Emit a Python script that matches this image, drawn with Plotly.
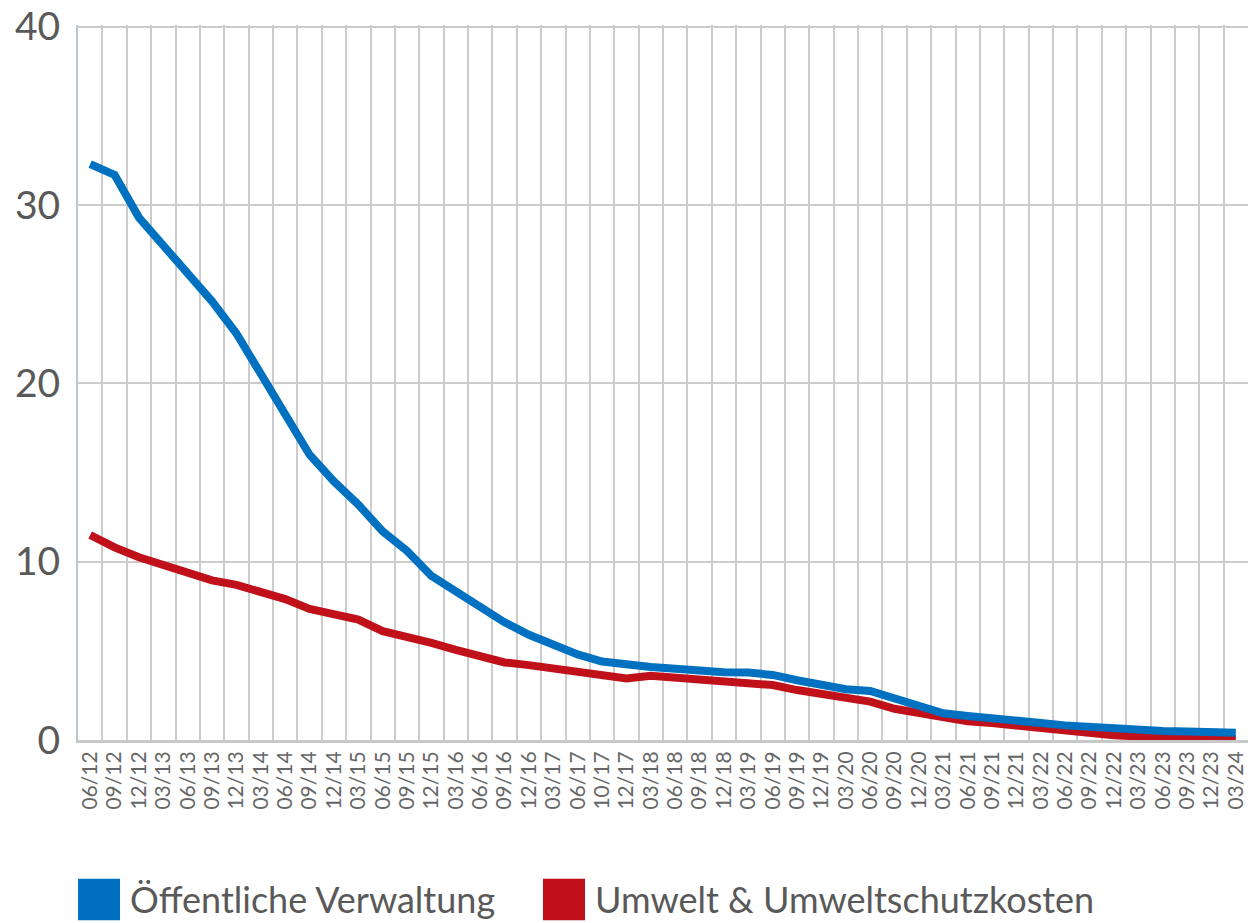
import plotly.graph_objects as go

categories = ["06/12","09/12","12/12","03/13","06/13","09/13","12/13","03/14","06/14","09/14",
              "12/14","03/15","06/15","09/15","12/15","03/16","06/16","09/16","12/16","03/17",
              "06/17","10/17","12/17","03/18","06/18","09/18","12/18","03/19","06/19","09/19",
              "12/19","03/20","06/20","09/20","12/20","03/21","06/21","09/21","12/21","03/22",
              "06/22","09/22","12/22","03/23","06/23","09/23","12/23","03/24"]

series_names = ["Öffentliche Verwaltung", "Umwelt & Umweltschutzkosten"]

verwaltung = [32.3, 31.7, 29.3, 27.7, 26.1, 24.6, 22.8, 20.6, 18.3, 16.0,
              14.5, 13.2, 11.7, 10.6, 9.2, 8.3, 7.4, 6.6, 5.9, 5.3,
              4.8, 4.4, 4.2, 4.1, 4.0, 3.85, 3.8, 3.78, 3.65, 3.35,
              3.1, 2.85, 2.75, 2.35, 1.85, 1.5, 1.35, 1.25, 1.1, 0.95,
              0.82, 0.72, 0.65, 0.57, 0.5, 0.47, 0.43, 0.4]

umwelt = [11.5, 10.8, 10.25, 9.85, 9.45, 8.95, 8.7, 8.3, 7.9, 7.35,
          7.1, 6.75, 6.1, 5.8, 5.45, 5.05, 4.65, 4.35, 4.2, 4.0,
          3.8, 3.65, 3.45, 3.6, 3.5, 3.4, 3.3, 3.22, 3.08, 2.8,
          2.58, 2.35, 2.15, 1.75, 1.5, 1.2, 1.05, 0.95, 0.8, 0.62,
          0.47, 0.36, 0.27, 0.2, 0.15, 0.12, 0.08, 0.05]

y_ticks = [0, 10, 20, 30, 40]

colors = ["#0070C0", "#C0111B"]
W, H = 1250, 923
L, R, T, B = 78, 2, 18, 183

fig = go.Figure()
# draw red first so the blue line sits on top, as in the reference
for name, vals, col in reversed(list(zip(series_names, [verwaltung, umwelt], colors))):
    fig.add_trace(go.Scatter(x=categories, y=vals, mode="lines", name=name,
                             line=dict(color=col, width=8), showlegend=False))

fig.update_layout(
    width=W, height=H,
    margin=dict(l=L, r=R, t=T, b=B),
    paper_bgcolor="white", plot_bgcolor="white",
    font=dict(family="Lato", color="#595959"),
)
fig.update_xaxes(
    type="category", tickson="boundaries", ticks="", showgrid=True,
    tickmode="array", tickvals=categories, ticktext=categories,
    gridcolor="#CCCCCC", gridwidth=2,
    showline=True, linecolor="#C8C8C8", linewidth=3,
    tickangle=-90, tickfont=dict(size=21, color="#666666", family="Lato"),
    range=[-0.5, len(categories) - 0.5],
)
fig.update_yaxes(
    range=[0, 40.1], tickvals=y_ticks, showgrid=True,
    gridcolor="#CCCCCC", gridwidth=2, zeroline=False,
    showline=True, linecolor="#B8C8D4", linewidth=2,
    tickfont=dict(size=39, color="#595959", family="Lato"),
    ticks="", ticklabelstandoff=8, ticklabeloverflow="allow",
)

# legend drawn with squares and text
legend_x = [78, 543]
sq = 42
y_top = 880
for i, (name, col) in enumerate(zip(series_names, colors)):
    x0 = legend_x[i]
    fig.add_shape(type="rect", xref="paper", yref="paper",
                  x0=(x0 - L) / (W - L - R), x1=(x0 + sq - L) / (W - L - R),
                  y0=(H - B - (y_top + sq)) / (H - T - B), y1=(H - B - y_top) / (H - T - B),
                  fillcolor=col, line=dict(width=0))
    fig.add_annotation(xref="paper", yref="paper",
                       x=(x0 + sq + 8 - L) / (W - L - R),
                       y=(H - B - (y_top + sq / 2)) / (H - T - B),
                       text=name, showarrow=False, xanchor="left", yanchor="middle",
                       font=dict(size=36, color="#595959", family="Lato"))

fig.write_html("out.html", config={"displayModeBar": False},
               post_script="document.body.style.margin='0';document.body.style.padding='0';document.body.style.overflow='hidden';")
